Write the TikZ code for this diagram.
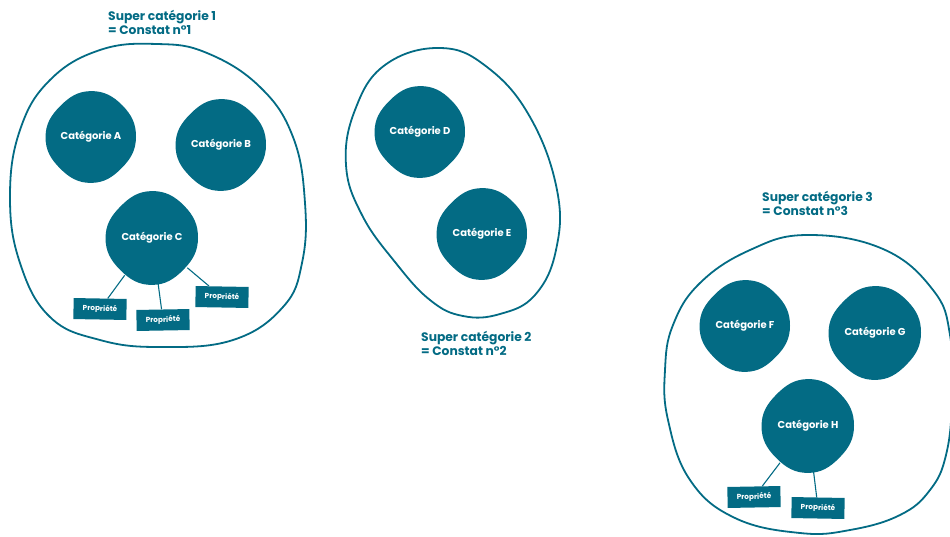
\documentclass[tikz,border=0pt]{standalone}
\usepackage{fontspec}
\setmainfont{Poppins}
\definecolor{teal1}{RGB}{3,107,132}
\tikzset{
  bigblob/.style={draw=teal1, line width=1.8pt},
  cat/.style={circle, inner sep=0pt, minimum size=#1, text=white, font=\fontsize{10}{12}\selectfont\bfseries},
  prop/.style={fill=teal1, text=white, minimum width=53pt, minimum height=21pt, inner sep=0pt, font=\fontsize{7.3}{9}\selectfont\bfseries},
  link/.style={draw=teal1, line width=1.1pt},
  suplabel/.style={anchor=base west, inner sep=0pt, text=teal1, font=\fontsize{12.3}{14}\selectfont\bfseries}
}
\newcommand\blobfill[3]{%
  \fill[teal1, shift={(#1,#2)}] plot[smooth cycle, tension=0.75] coordinates {
    (0:{1.0*#3}) (45:{0.97*#3}) (90:{1.02*#3}) (135:{0.98*#3})
    (180:{1.01*#3}) (225:{0.97*#3}) (270:{1.02*#3}) (315:{0.99*#3})};
}
\begin{document}
\begin{tikzpicture}[x=1pt,y=-1pt]
\useasboundingbox (0,0) rectangle (950,536);

% big containers
\draw[bigblob] plot[smooth cycle, tension=0.7] coordinates {
  (157,44) (207,53) (260,87) (293,137) (305,203) (302,263) (283,307) (233,340)
  (160,347) (100,340) (50,317) (20,263) (10,197) (20,130) (50,80) (100,50)};
\draw[bigblob] plot[smooth cycle, tension=0.7] coordinates {
  (440,48) (487,67) (530,117) (557,190) (556,250) (535,295) (500,314) (463,316)
  (430,300) (395,262) (362,215) (346,165) (355,110) (385,65)};
\draw[bigblob] plot[smooth cycle, tension=0.7] coordinates {
  (807,235) (883,249) (933,290) (950,335) (952,400) (946,455) (930,490) (900,515)
  (850,530) (800,533) (735,518) (690,480) (668,420) (665,370) (673,325) (700,283) (750,250)};

% super category labels
\node[suplabel] (s1a) at (108,20) {Super catégorie 1};
\node[suplabel] (s1b) at (108,34) {= Constat n°1};
\node[suplabel] (s2a) at (421,341) {Super catégorie 2};
\node[suplabel] (s2b) at (421,355) {= Constat n°2};
\node[suplabel] (s3a) at (762,201) {Super catégorie 3};
\node[suplabel] (s3b) at (762,215) {= Constat n°3};

% categories
\blobfill{91}{137}{45}
\node[cat=90pt] (A) at (91,137) {Catégorie A};
\blobfill{221}{145}{45}
\node[cat=90pt] (B) at (221,145) {Catégorie B};
\blobfill{152}{238}{46}
\node[cat=92pt] (C) at (152,238) {Catégorie C};
\blobfill{420}{132}{45}
\node[cat=90pt] (D) at (420,132) {Catégorie D};
\blobfill{482}{234}{45}
\node[cat=90pt] (E) at (482,234) {Catégorie E};
\blobfill{745}{326}{45}
\node[cat=90pt] (F) at (745,326) {Catégorie F};
\blobfill{875}{333}{46}
\node[cat=92pt] (G) at (875,333) {Catégorie G};
\blobfill{808}{426}{46}
\node[cat=92pt] (H) at (808,426) {Catégorie H};

% properties
\node[prop, rotate=-1] (pC1) at (100,309) {Propriété};
\node[prop, rotate=1] (pC2) at (163,320) {Propriété};
\node[prop, rotate=-1] (pC3) at (222,297) {Propriété};
\node[prop, rotate=1] (pH1) at (754,497) {Propriété};
\node[prop, rotate=-1] (pH2) at (818,508) {Propriété};

\draw[link] (C) -- (pC1);
\draw[link] (C) -- (pC2);
\draw[link] (C) -- (pC3);
\draw[link] (H) -- (pH1);
\draw[link] (H) -- (pH2);
\end{tikzpicture}
\end{document}
